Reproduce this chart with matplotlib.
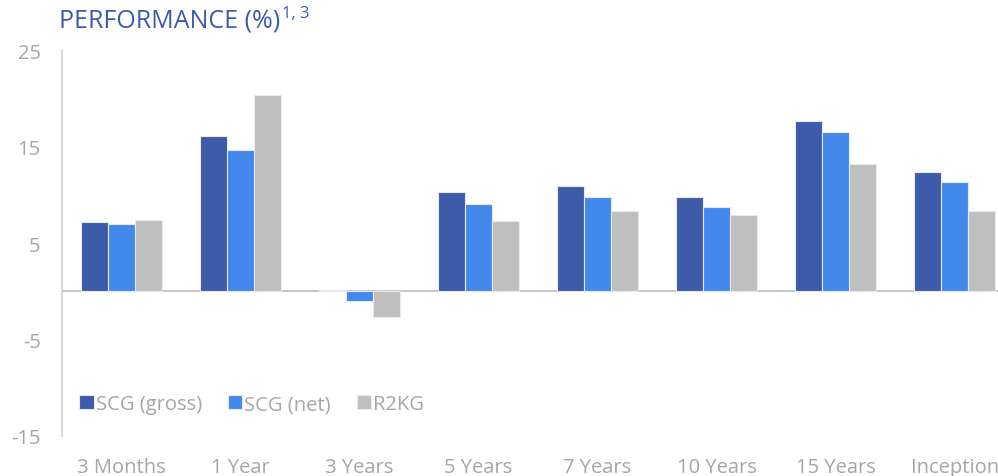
import matplotlib
matplotlib.use("Agg")
import matplotlib.pyplot as plt
import numpy as np

categories = ["3 Months", "1 Year", "3 Years", "5 Years", "7 Years", "10 Years", "15 Years", "Inception"]
scg_gross = [7.2, 16.1, 0.15, 10.3, 10.9, 9.8, 17.7, 12.4]
scg_net = [7.0, 14.7, -1.0, 9.1, 9.8, 8.7, 16.5, 11.3]
r2kg = [7.4, 20.4, -2.7, 7.3, 8.3, 7.9, 13.2, 8.3]
series_names = ["SCG (gross)", "SCG (net)", "R2KG"]
yticks = [25, 15, 5, -5, -15]

colors = ["#3E5BAA", "#4389EC", "#BFBFBF"]
gray = "#A6A6A6"

plt.rcParams['font.family'] = ['Open Sans', 'DejaVu Sans']

fig = plt.figure(figsize=(9.98, 4.77), dpi=100)
ax = fig.add_axes([61.5/998, 1-437/477, 953/998, (437-51.3)/477])

x = np.arange(len(categories))
w = 0.227
for i, (vals, name) in enumerate(zip([scg_gross, scg_net, r2kg], series_names)):
    ax.bar(x + (i-1)*w, vals, width=w, color=colors[i], label=name,
           edgecolor="#E6E9F2", linewidth=0.8, zorder=2)

ax.set_xlim(-0.5, len(categories)-0.5)
ax.set_ylim(-15, 25)
ax.set_yticks(yticks)
ax.set_yticklabels([str(t) for t in yticks])
ax.set_xticks(x)
ax.set_xticklabels(categories)
ax.axhline(0, color="#C8C8C8", linewidth=1.5, zorder=1)

for s in ["top", "right", "bottom"]:
    ax.spines[s].set_visible(False)
ax.spines["left"].set_color("#D0D0D0")
ax.spines["left"].set_linewidth(1.2)
ax.tick_params(axis="both", length=0, colors=gray, labelsize=14.5)
ax.tick_params(axis="x", pad=15)
ax.tick_params(axis="y", pad=15)

leg = ax.legend(loc="lower left", bbox_to_anchor=(0.004, 0.02), ncol=3, frameon=False,
                fontsize=14.5, handlelength=0.7, handleheight=0.7, handletextpad=0.1,
                columnspacing=1.3, borderaxespad=0.3)
for t in leg.get_texts():
    t.set_color(gray)

title = fig.text(59/998, 1-21.5/477, "PERFORMANCE (%)", color="#3E5BAA",
                 fontsize=18, va="center", ha="left")
ax.annotate("1, 3", xy=(1, 1), xycoords=title, xytext=(1, 2.5), textcoords="offset points",
            color="#3E5BAA", fontsize=12, va="top", ha="left", annotation_clip=False)

fig.savefig("out.png", dpi=100)
